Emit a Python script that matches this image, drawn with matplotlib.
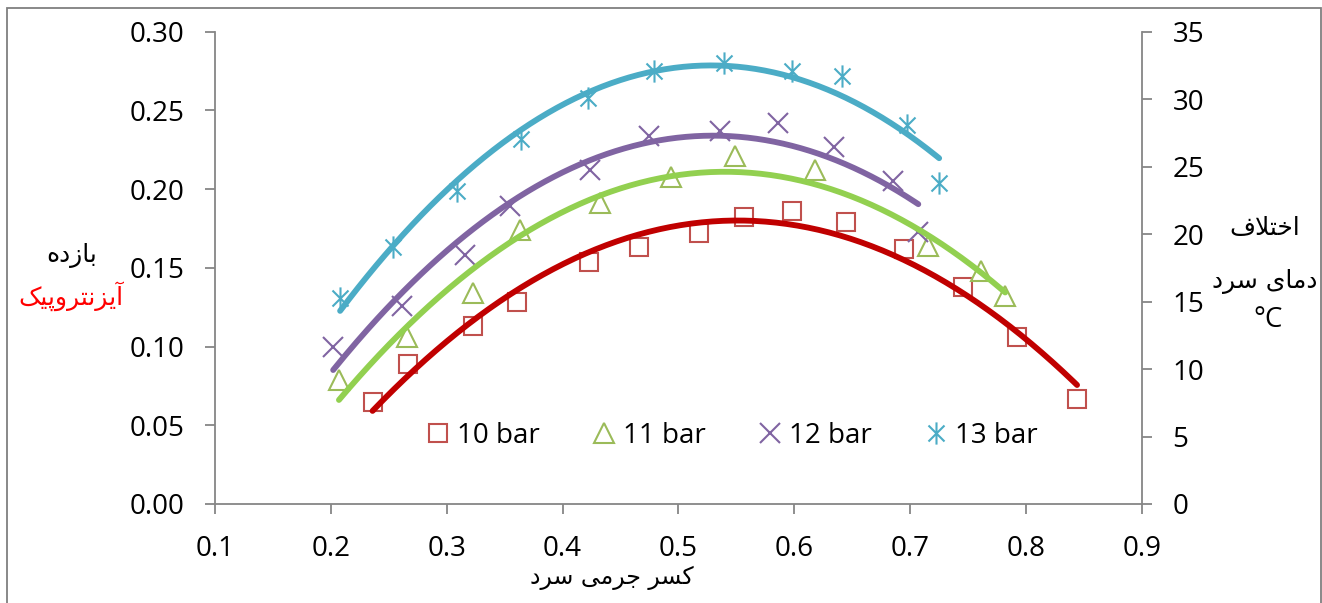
import numpy as np
import matplotlib
matplotlib.use('Agg')
import matplotlib.pyplot as plt
from matplotlib.path import Path
from matplotlib.patches import Rectangle

# ---- data ----
x10 = [0.236, 0.267, 0.323, 0.361, 0.423, 0.466, 0.518, 0.557, 0.598, 0.645, 0.695, 0.746, 0.792, 0.844]
y10 = [0.065, 0.089, 0.113, 0.128, 0.154, 0.163, 0.172, 0.182, 0.186, 0.179, 0.162, 0.138, 0.106, 0.067]

x11 = [0.207, 0.266, 0.323, 0.363, 0.432, 0.494, 0.549, 0.618, 0.715, 0.761, 0.782]
y11 = [0.079, 0.106, 0.134, 0.174, 0.191, 0.208, 0.221, 0.212, 0.164, 0.148, 0.132]

x12 = [0.202, 0.261, 0.316, 0.355, 0.424, 0.475, 0.536, 0.586, 0.634, 0.685, 0.707]
y12 = [0.100, 0.126, 0.158, 0.189, 0.212, 0.234, 0.237, 0.242, 0.227, 0.205, 0.173]

x13 = [0.208, 0.254, 0.309, 0.364, 0.422, 0.479, 0.539, 0.598, 0.641, 0.697, 0.725]
y13 = [0.131, 0.163, 0.199, 0.232, 0.258, 0.275, 0.280, 0.275, 0.272, 0.241, 0.204]

labels = ['10 bar', '11 bar', '12 bar', '13 bar']
x_ticks = [0.1, 0.2, 0.3, 0.4, 0.5, 0.6, 0.7, 0.8, 0.9]
y_ticks = [0.00, 0.05, 0.10, 0.15, 0.20, 0.25, 0.30]
y2_ticks = [0, 5, 10, 15, 20, 25, 30, 35]

# ---- simple Persian shaping (matplotlib has no complex text layout) ----
FORMS = {  # isolated, final, initial, medial
    'ا': (0xFE8D, 0xFE8E, None, None),
    'آ': (0xFE81, 0xFE82, None, None),
    'ب': (0xFE8F, 0xFE90, 0xFE91, 0xFE92),
    'پ': (0xFB56, 0xFB57, 0xFB58, 0xFB59),
    'ت': (0xFE95, 0xFE96, 0xFE97, 0xFE98),
    'ج': (0xFE9D, 0xFE9E, 0xFE9F, 0xFEA0),
    'خ': (0xFEA5, 0xFEA6, 0xFEA7, 0xFEA8),
    'د': (0xFEA9, 0xFEAA, None, None),
    'ر': (0xFEAD, 0xFEAE, None, None),
    'ز': (0xFEAF, 0xFEB0, None, None),
    'س': (0xFEB1, 0xFEB2, 0xFEB3, 0xFEB4),
    'ف': (0xFED1, 0xFED2, 0xFED3, 0xFED4),
    'ک': (0xFB8E, 0xFB8F, 0xFB90, 0xFB91),
    'ل': (0xFEDD, 0xFEDE, 0xFEDF, 0xFEE0),
    'م': (0xFEE1, 0xFEE2, 0xFEE3, 0xFEE4),
    'ن': (0xFEE5, 0xFEE6, 0xFEE7, 0xFEE8),
    'ه': (0xFEE9, 0xFEEA, 0xFEEB, 0xFEEC),
    'و': (0xFEED, 0xFEEE, None, None),
    'ی': (0xFBFC, 0xFBFD, 0xFBFE, 0xFBFF),
}
LAM_ALEF = (0xFEFB, 0xFEFC)


def farsi(text):
    tokens = []
    i = 0
    while i < len(text):
        if text[i] == 'ل' and i + 1 < len(text) and text[i + 1] == 'ا':
            tokens.append('LA')
            i += 2
        else:
            tokens.append(text[i])
            i += 1

    def is_letter(t):
        return t == 'LA' or t in FORMS

    def dual(t):
        return t in FORMS and FORMS[t][2] is not None

    out = []
    for k, t in enumerate(tokens):
        if not is_letter(t):
            out.append(t)
            continue
        prev_j = k > 0 and dual(tokens[k - 1])
        next_j = k + 1 < len(tokens) and is_letter(tokens[k + 1]) and dual(t)
        if t == 'LA':
            out.append(chr(LAM_ALEF[1] if prev_j else LAM_ALEF[0]))
            continue
        idx = 3 if (prev_j and next_j) else 1 if prev_j else 2 if next_j else 0
        out.append(chr(FORMS[t][idx]))
    return ''.join(reversed(out))


plt.rcParams['font.family'] = ['Open Sans', 'DejaVu Sans']
AR = ['DejaVu Sans']

# excel-like star: vertical bar + X
star = Path([(0, -1), (0, 1), (-0.72, -0.72), (0.72, 0.72), (-0.72, 0.72), (0.72, -0.72)],
            [Path.MOVETO, Path.LINETO, Path.MOVETO, Path.LINETO, Path.MOVETO, Path.LINETO])

series = [
    (x10, y10, 's', '#C0504D', '#C00000', 13),
    (x11, y11, '^', '#9BBB59', '#92D050', 14),
    (x12, y12, 'x', '#8064A2', '#8064A2', 14),
    (x13, y13, star, '#4BACC6', '#4BACC6', 16),
]

fig = plt.figure(figsize=(13.22, 6.03), dpi=100)
ax = fig.add_axes([0.1626, 0.1642, 0.7012, 0.7832])
ax2 = ax.twinx()

for (xs, ys, m, mc, lc, ms), lab in zip(series, labels):
    ax.plot(xs, ys, linestyle='none', marker=m, markersize=ms, mfc='none',
            mec=mc, mew=1.5, label=lab, zorder=3)
    coef = np.polyfit(xs, ys, 2)
    xx = np.linspace(min(xs), max(xs), 200)
    ax.plot(xx, np.polyval(coef, xx), color=lc, lw=4.2, solid_capstyle='round', zorder=4)

ax.set_xlim(0.1, 0.9)
ax.set_ylim(0, 0.30)
ax2.set_ylim(0, 35)
ax.set_xticks(x_ticks)
ax.set_xticklabels([f'{v:.1f}' for v in x_ticks])
ax.set_yticks(y_ticks)
ax.set_yticklabels([f'{v:.2f}' for v in y_ticks])
ax2.set_yticks(y2_ticks)

gray = '#868686'
for a in (ax, ax2):
    a.spines['top'].set_visible(False)
    for s in ('left', 'right', 'bottom'):
        a.spines[s].set_color(gray)
        a.spines[s].set_linewidth(1.3)
    a.tick_params(axis='both', colors=gray, labelcolor='black', labelsize=20,
                  length=7, width=1.3, direction='out')
ax.tick_params(axis='y', pad=15)
ax.tick_params(axis='x', pad=15)
ax2.tick_params(axis='y', pad=15)
ax.spines['right'].set_visible(False)
ax2.spines['left'].set_visible(False)
ax2.spines['bottom'].set_visible(False)

ax.legend(loc='center', bbox_to_anchor=(0.558, 0.144), ncol=4, frameon=False,
          fontsize=20, numpoints=1, handlelength=0.8, handletextpad=0.3,
          columnspacing=1.9)

# axis titles
fig.text(72 / 1322, 1 - 255 / 603, farsi('بازده'), family=AR, fontsize=18,
         ha='center', va='center')
fig.text(71 / 1322, 1 - 296 / 603, farsi('آیزنتروپیک'), family=AR, fontsize=18,
         ha='center', va='center', color='red')
fig.text(1265 / 1322, 1 - 228 / 603, farsi('اختلاف'), family=AR, fontsize=18,
         ha='center', va='center')
fig.text(1265 / 1322, 1 - 281 / 603, farsi('دمای سرد'), family=AR, fontsize=18,
         ha='center', va='center')
fig.text(1268 / 1322, 1 - 320 / 603, '°C', fontsize=20, ha='center', va='center')
fig.text(612 / 1322, 1 - 578 / 603, farsi('کسر جرمی سرد'), family=AR, fontsize=17,
         ha='center', va='center')

# chart area border
fig.patches.append(Rectangle((7 / 1322, -0.05), 1314 / 1322, 1.05 - 8 / 603,
                             transform=fig.transFigure, fill=False,
                             edgecolor='#7f7f7f', lw=1.3))

fig.savefig('out.png', dpi=100, facecolor='white')
